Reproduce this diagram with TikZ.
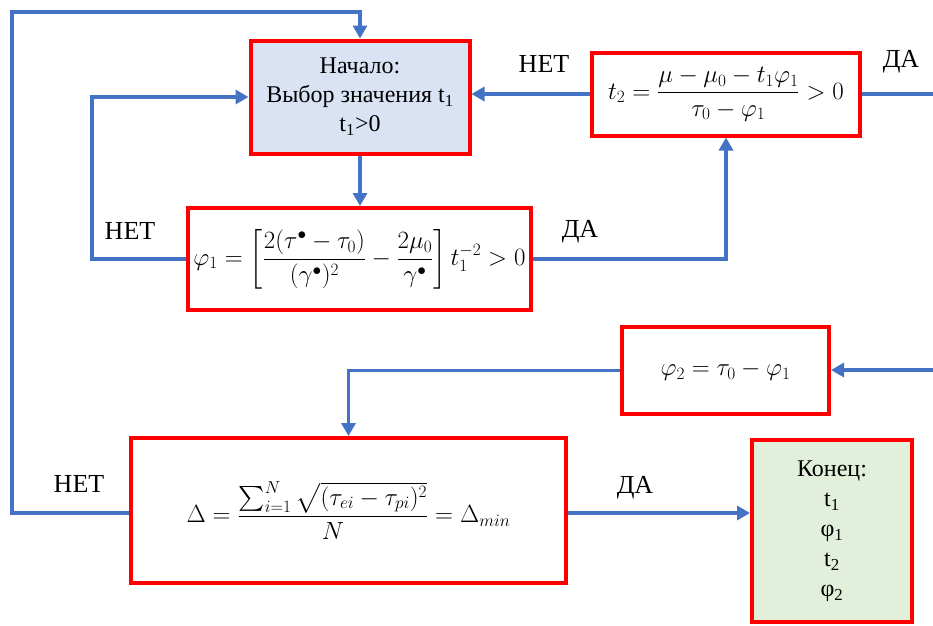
\documentclass[tikz,border=0pt]{standalone}
\usepackage{amsmath}
\usepackage{fontspec}
\setmainfont{Liberation Serif}
\newfontfamily\tnr{Liberation Serif}
\usetikzlibrary{arrows.meta,calc}
\definecolor{boxred}{HTML}{FF0000}
\definecolor{lineblue}{HTML}{4472C4}
\definecolor{startfill}{HTML}{DAE3F3}
\definecolor{endfill}{HTML}{E2EFDA}
\tikzset{
  blk/.style={draw=boxred, line width=4pt, inner sep=0pt, align=center, font=\tnr\fontsize{24}{29}\selectfont},
  conn/.style={draw=lineblue, line width=3.5pt, -{Triangle[length=13pt,width=14pt]}},
  plain/.style={draw=lineblue, line width=3.5pt},
  lbl/.style={font=\tnr\fontsize{26}{28}\selectfont, inner sep=0pt}
}
\newcommand{\mth}{\fontsize{24}{28}\selectfont}
\begin{document}
\begin{tikzpicture}[x=1pt,y=-1pt]
\useasboundingbox (0,0) rectangle (933,625);
% boxes
\node[blk, fill=startfill, minimum width=219pt, minimum height=113pt] (start) at (360,97)
  {Начало:\\Выбор значения t\textsubscript{1}\\t\textsubscript{1}>0};
\node[blk, fill=white, minimum width=268pt, minimum height=83pt] (t2) at (726,94)
  {\mth$t_2=\dfrac{\mu-\mu_0-t_1\varphi_1}{\tau_0-\varphi_1}>0$};
\node[blk, fill=white, minimum width=343pt, minimum height=102pt] (phi1) at (359.5,259)
  {\mth$\varphi_1=\left[\dfrac{2(\tau^\bullet-\tau_0)}{(\gamma^\bullet)^2}-\dfrac{2\mu_0}{\gamma^\bullet}\right]t_1^{-2}>0$};
\node[blk, fill=white, minimum width=207pt, minimum height=87pt] (phi2) at (725.5,370.5)
  {\mth$\varphi_2=\tau_0-\varphi_1$};
\node[blk, fill=white, minimum width=435pt, minimum height=145pt] (delta) at (348.5,510.5)
  {\mth$\Delta=\dfrac{\sum_{i=1}^{N}\sqrt{(\tau_{ei}-\tau_{pi})^2}}{N}=\Delta_{min}$};
\node[blk, fill=endfill, minimum width=160pt, minimum height=182pt, font=\tnr\fontsize{24}{30}\selectfont] (end) at (832,531)
  {Конец:\\t\textsubscript{1}\\φ\textsubscript{1}\\t\textsubscript{2}\\φ\textsubscript{2}};
% coordinates
\coordinate (lt) at (12,12);
\coordinate (lb) at (12,513);
\coordinate (il) at (92,259);
\coordinate (rx) at (933,95);
\coordinate (ry) at (933,370);
% connectors
\draw[conn] (delta.west |- lb) -- (lb) -- (lt) -| (start.north);
\draw[conn] (start.south) -- (start.south |- phi1.north);
\draw[conn] (phi1.west) -- (il) |- (start.west);
\draw[conn] (phi1.east) -| (t2.south);
\draw[conn] (t2.west) -- (t2.west -| start.east);
\draw[plain] (t2.east) -- (t2.east -| rx);
\draw[conn] (ry) -- (ry -| phi2.east);
\draw[conn] (phi2.west) -| (delta.north);
\draw[conn] (delta.east |- lb) -- (lb -| end.west);
% labels
\node[lbl] (l1) at (130,231) {НЕТ};
\node[lbl] (l2) at (580,232) {ДА};
\node[lbl] (l3) at (544,64) {НЕТ};
\node[lbl] (l4) at (901,62) {ДА};
\node[lbl] (l5) at (79,484) {НЕТ};
\node[lbl] (l6) at (635,488) {ДА};
\end{tikzpicture}
\end{document}
